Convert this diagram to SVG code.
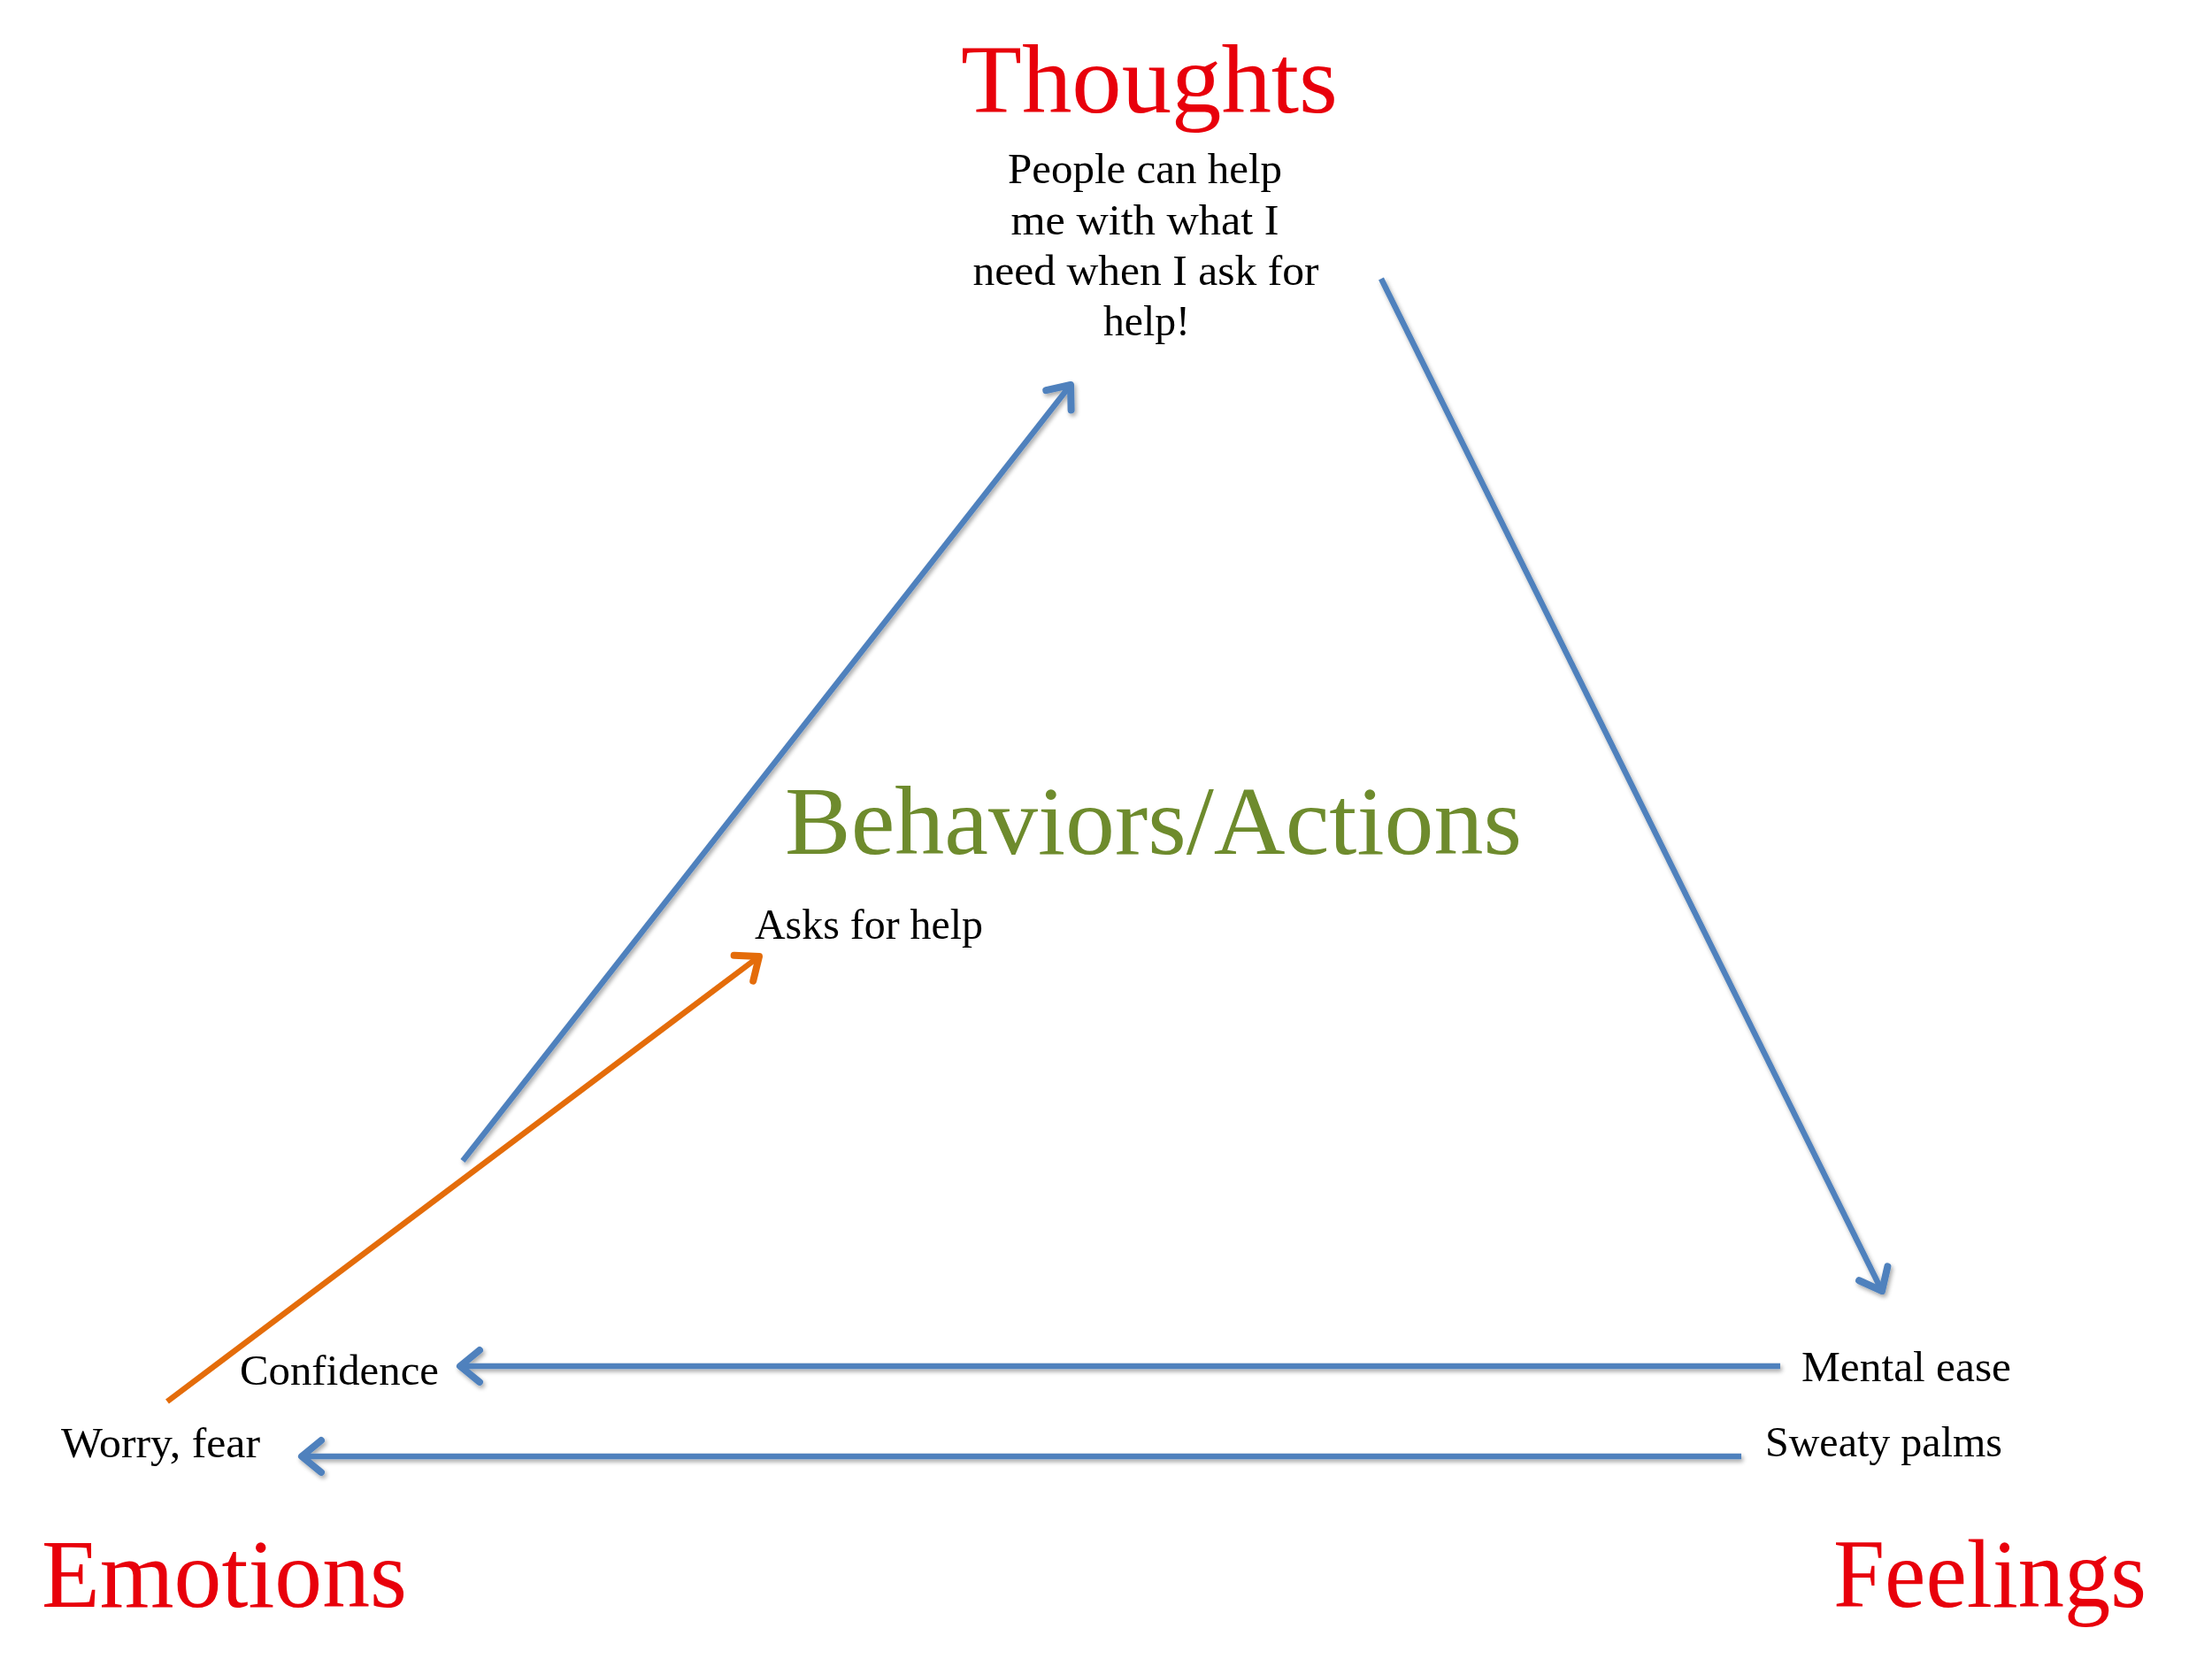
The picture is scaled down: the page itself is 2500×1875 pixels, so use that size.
<svg xmlns="http://www.w3.org/2000/svg" width="2500" height="1875" viewBox="0 0 2500 1875">
  <defs>
    <style>
      .title { font-family: "Liberation Serif", "Times New Roman", serif; font-size: 111px; fill: #E8000B; }
      .beh { font-family: "Liberation Serif", "Times New Roman", serif; font-size: 111px; fill: #6E8B2D; }
      .lbl { font-family: "Liberation Serif", "Times New Roman", serif; font-size: 49px; fill: #000000; }
      .blue { stroke: #4F81BD; stroke-width: 6.5; fill: none; }
      .orange { stroke: #E46C0A; stroke-width: 6.5; fill: none; }
    </style>
    <filter id="shadow" filterUnits="userSpaceOnUse" x="0" y="0" width="2500" height="1875">
      <feGaussianBlur in="SourceAlpha" stdDeviation="2.5"/>
      <feOffset dx="2" dy="3" result="b"/>
      <feComponentTransfer><feFuncA type="linear" slope="0.35"/></feComponentTransfer>
      <feMerge><feMergeNode/><feMergeNode in="SourceGraphic"/></feMerge>
    </filter>
    <marker id="arrBlue" markerUnits="userSpaceOnUse" markerWidth="60" markerHeight="60" refX="0" refY="0" orient="auto" overflow="visible">
      <path d="M -22 -18 L 0 0 L -22 18" fill="none" stroke="#4F81BD" stroke-width="8" stroke-linecap="round" stroke-linejoin="round"/>
    </marker>
    <marker id="arrOrange" markerUnits="userSpaceOnUse" markerWidth="60" markerHeight="60" refX="0" refY="0" orient="auto" overflow="visible">
      <path d="M -22 -18 L 0 0 L -22 18" fill="none" stroke="#E46C0A" stroke-width="8" stroke-linecap="round" stroke-linejoin="round"/>
    </marker>
  </defs>
  <rect width="2500" height="1875" fill="#FFFFFF"/>

  <g id="connectors">
    <g filter="url(#shadow)">
      <line class="blue" x1="523" y1="1312" x2="1210" y2="435" marker-end="url(#arrBlue)"/>
      <line class="blue" x1="1561" y1="315" x2="2127" y2="1459" marker-end="url(#arrBlue)"/>
      <line class="blue" x1="2012" y1="1544" x2="520" y2="1544" marker-end="url(#arrBlue)"/>
      <line class="blue" x1="1968" y1="1646" x2="341" y2="1646" marker-end="url(#arrBlue)"/>
    </g>
    <line class="orange" x1="189" y1="1584" x2="858" y2="1081" marker-end="url(#arrOrange)"/>
  </g>

  <g id="thoughts">
    <text class="title" x="1299" y="127" text-anchor="middle" textLength="426" lengthAdjust="spacingAndGlyphs">Thoughts</text>
    <text class="lbl" x="1294" y="207" text-anchor="middle" textLength="310" lengthAdjust="spacingAndGlyphs">People can help</text>
    <text class="lbl" x="1294" y="265" text-anchor="middle" textLength="303" lengthAdjust="spacingAndGlyphs">me with what I</text>
    <text class="lbl" x="1295" y="322" text-anchor="middle" textLength="391" lengthAdjust="spacingAndGlyphs">need when I ask for</text>
    <text class="lbl" x="1296" y="379" text-anchor="middle" textLength="98" lengthAdjust="spacingAndGlyphs">help!</text>
  </g>

  <g id="behaviors">
    <text class="beh" x="887" y="965" textLength="833" lengthAdjust="spacingAndGlyphs">Behaviors/Actions</text>
    <text class="lbl" x="853" y="1061" textLength="258" lengthAdjust="spacingAndGlyphs">Asks for help</text>
  </g>

  <g id="emotions">
    <text class="lbl" x="271" y="1565" textLength="225" lengthAdjust="spacingAndGlyphs">Confidence</text>
    <text class="lbl" x="69" y="1647" textLength="225" lengthAdjust="spacingAndGlyphs">Worry, fear</text>
    <text class="title" x="47" y="1816" textLength="413" lengthAdjust="spacingAndGlyphs">Emotions</text>
  </g>

  <g id="feelings">
    <text class="lbl" x="2036" y="1561" textLength="237" lengthAdjust="spacingAndGlyphs">Mental ease</text>
    <text class="lbl" x="1995" y="1646" textLength="268" lengthAdjust="spacingAndGlyphs">Sweaty palms</text>
    <text class="title" x="2072" y="1816" textLength="354" lengthAdjust="spacingAndGlyphs">Feelings</text>
  </g>
</svg>
